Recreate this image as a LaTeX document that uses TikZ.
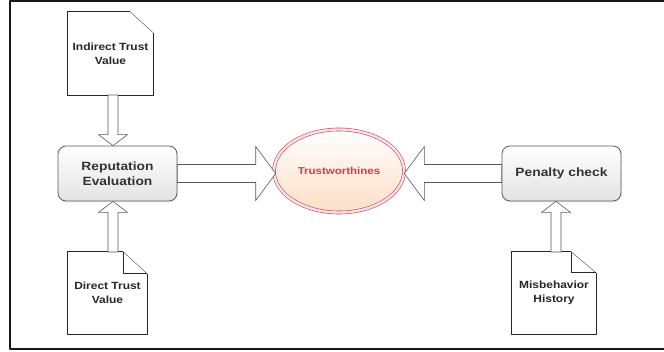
\documentclass[tikz,border=0pt]{standalone}
\usepackage{fontspec}
\setmainfont{Liberation Sans}[FakeStretch=1.15]
\usetikzlibrary{calc,shapes.geometric,shadows}
\definecolor{trustred}{RGB}{210,70,90}
\definecolor{trusttext}{RGB}{222,58,66}
\definecolor{peach}{RGB}{252,222,198}
\definecolor{boxline}{RGB}{90,90,90}
\tikzset{
  docnode/.style={minimum width=85pt,minimum height=83pt,inner sep=0pt,align=center,
    font=\bfseries\fontsize{10.4}{14}\selectfont,text=black!85},
  docline/.style={line width=0.9pt,black!85},
  procbox/.style={rounded corners=8pt,draw=boxline,line width=0.8pt,top color=white,bottom color=gray!22,
    minimum width=119pt,minimum height=55pt,align=center,font=\bfseries\fontsize{12}{15}\selectfont,text=black!80,
    drop shadow={opacity=0.15,shadow xshift=1pt,shadow yshift=-1.5pt}},
  blockarrow/.style={draw=black!65,line width=0.6pt,fill=white,line join=miter},
}
% vertical block arrow: tail, tip, 1 = down / -1 = up
\newcommand\vblock[3]{%
  \draw[blockarrow] ($(#1)+(-5,0)$) -- ($(#2)+(-5,-11*#3)$) -- ($(#2)+(-14.5,-11*#3)$) -- (#2)
    -- ($(#2)+(14.5,-11*#3)$) -- ($(#2)+(5,-11*#3)$) -- ($(#1)+(5,0)$) -- cycle;}
% horizontal block arrow: tail, tip, 1 = right / -1 = left
\newcommand\hblock[3]{%
  \draw[blockarrow] ($(#1)+(0,-9)$) -- ($(#2)+(-20*#3,-9)$) -- ($(#2)+(-20*#3,-27)$) -- (#2)
    -- ($(#2)+(-20*#3,27)$) -- ($(#2)+(-20*#3,9)$) -- ($(#1)+(0,9)$) -- cycle;}
% document outline with cut corner
\newcommand\docoutline[3]{%
  \coordinate (#1f1) at ($(#1.north east)+(-#2,0)$);
  \coordinate (#1f2) at ($(#1.north east)+(0,#3)$);
  \draw[docline] (#1f2) -- (#1.south east) -- (#1.south west) -- (#1.north west) -- (#1f1);
  \draw[black!70,line width=0.4pt] (#1f1) -- (#1f2);}
\begin{document}
\begin{tikzpicture}[x=1pt,y=-1pt,line join=round]
  \useasboundingbox (0,0) rectangle (664,352);
  \draw[line width=2pt,black!90] (9.5,1.5) rectangle (672,349.5);

  % nodes
  \node[docnode] (ind) at (110.5,53.5) {Indirect Trust\\Value};
  \node[docnode,minimum width=79pt,minimum height=82pt] (dir) at (107.5,293) {Direct Trust\\Value};
  \node[docnode,minimum width=84pt,minimum height=82pt] (mis) at (554,293) {Misbehavior\\History};
  \node[procbox] (rep) at (117.5,173.5) {Reputation\\Evaluation};
  \node[procbox] (pen) at (561.5,173.5) {Penalty check};
  \node[ellipse,minimum width=130pt,minimum height=83pt,draw=trustred,line width=0.6pt,
    double=white!85!trustred,double distance=2.4pt,top color=white,bottom color=peach,
    drop shadow={opacity=0.12,shadow xshift=1pt,shadow yshift=-1.5pt},
    font=\bfseries\fontsize{10}{12}\selectfont,text=trusttext] (tw) at (339,171) {Trustworthines};

  % documents
  \docoutline{ind}{23}{21}
  \docoutline{dir}{24}{22}
  \docoutline{mis}{25}{21}
  \draw[docline] (dirf1) |- (dirf2);
  \draw[docline] (misf1) |- (misf2);

  % block arrows
  \coordinate (a1) at (113,95);
  \coordinate (a2) at (113,252);
  \coordinate (a3) at (556,252);
  \vblock{a1}{rep.north -| a1}{1}
  \vblock{a2}{rep.south -| a2}{-1}
  \vblock{a3}{pen.south -| a3}{-1}
  \hblock{rep.east}{$(tw.west |- rep.east)+(2,0)$}{1}
  \hblock{pen.west}{tw.east |- pen.west}{-1}
\end{tikzpicture}
\end{document}
